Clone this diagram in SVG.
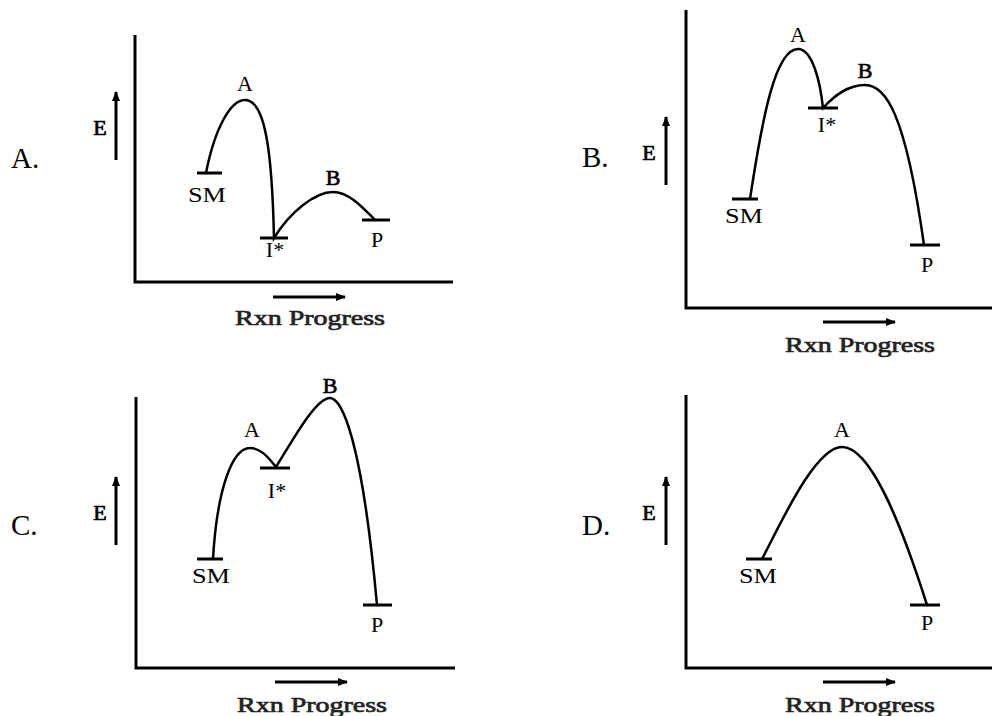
<svg xmlns="http://www.w3.org/2000/svg" width="992" height="716" viewBox="0 0 992 716">
<defs>
<marker id="ah" markerWidth="10" markerHeight="8" refX="9" refY="4" orient="auto" markerUnits="userSpaceOnUse">
<path d="M0,0 L10,4 L0,8 Z" fill="#000"/>
</marker>
<style>
.ax{fill:none;stroke:#000;stroke-width:3}
.lv{fill:none;stroke:#000;stroke-width:3}
.cv{fill:none;stroke:#000;stroke-width:2.5;stroke-linecap:round}
.ar{fill:none;stroke:#000;stroke-width:3;marker-end:url(#ah)}
.lb{font-family:"Liberation Serif","Times New Roman",serif;font-size:22px;fill:#000;text-anchor:middle}
.bd{stroke:#000;stroke-width:0.7}
.pn{font-family:"Liberation Serif","Times New Roman",serif;font-size:29px;fill:#000}
.rx{font-family:"Liberation Serif","Times New Roman",serif;font-size:22px;fill:#222;stroke:#222;stroke-width:0.7}
</style>
</defs>
<rect width="992" height="716" fill="#fff"/>

<g id="panelA">
<text class="pn" x="11" y="168">A.</text>
<path class="ax" d="M135,35 V282 H453"/>
<path class="ar" d="M116,160 V92"/>
<text class="lb bd" x="100" y="135">E</text>
<path class="ar" d="M273,297 H345"/>
<text class="rx" x="235" y="325" textLength="150" lengthAdjust="spacingAndGlyphs">Rxn Progress</text>
<path class="lv" d="M197,173 H222 M260,238 H288 M362,220 H390"/>
<path class="cv" d="M206,173 C215,127 231,100 245,100 C265,100 272,150 274,238 C290,212 315,192 333,192 C350,192 365,210 375,220"/>
<text class="lb" x="245" y="91">A</text>
<text class="lb bd" x="333" y="185">B</text>
<text class="lb" x="207" y="202" textLength="38" lengthAdjust="spacingAndGlyphs">SM</text>
<text class="lb" x="275" y="257">I*</text>
<text class="lb" x="377" y="247">P</text>
</g>

<g id="panelB">
<text class="pn" x="582" y="167">B.</text>
<path class="ax" d="M686,10 V308 H992"/>
<path class="ar" d="M666,185 V117"/>
<text class="lb bd" x="649" y="160">E</text>
<path class="ar" d="M823,322 H895"/>
<text class="rx" x="785" y="352" textLength="150" lengthAdjust="spacingAndGlyphs">Rxn Progress</text>
<path class="lv" d="M732,199 H758 M808,108 H838 M910,245 H940"/>
<path class="cv" d="M750,199 C762,120 775,49 798,49 C812,49 820,80 823,108 C835,95 848,85 865,85 C885,85 905,110 924,245"/>
<text class="lb" x="798" y="42">A</text>
<text class="lb bd" x="865" y="78">B</text>
<text class="lb" x="744" y="223" textLength="38" lengthAdjust="spacingAndGlyphs">SM</text>
<text class="lb" x="827" y="132">I*</text>
<text class="lb" x="927" y="272">P</text>
</g>

<g id="panelC">
<text class="pn" x="11" y="535">C.</text>
<path class="ax" d="M136,397 V668 H455"/>
<path class="ar" d="M116,545 V477"/>
<text class="lb bd" x="100" y="520">E</text>
<path class="ar" d="M275,682 H347"/>
<text class="rx" x="237" y="712" textLength="150" lengthAdjust="spacingAndGlyphs">Rxn Progress</text>
<path class="lv" d="M197,559 H223 M260,468 H290 M363,605 H392"/>
<path class="cv" d="M213,559 C217,490 232,448 250,448 C262,448 270,460 276,467 C290,445 315,398 330,398 C342,398 362,440 377,605"/>
<text class="lb" x="252" y="437">A</text>
<text class="lb bd" x="330" y="393">B</text>
<text class="lb" x="211" y="583" textLength="38" lengthAdjust="spacingAndGlyphs">SM</text>
<text class="lb" x="277" y="498">I*</text>
<text class="lb" x="377" y="632">P</text>
</g>

<g id="panelD">
<text class="pn" x="582" y="535">D.</text>
<path class="ax" d="M686,395 V668 H992"/>
<path class="ar" d="M666,545 V477"/>
<text class="lb bd" x="649" y="520">E</text>
<path class="ar" d="M823,682 H895"/>
<text class="rx" x="785" y="712" textLength="150" lengthAdjust="spacingAndGlyphs">Rxn Progress</text>
<path class="lv" d="M746,559 H772 M910,605 H940"/>
<path class="cv" d="M762,559 C780,525 815,447 842,447 C870,447 900,520 927,605"/>
<text class="lb" x="842" y="437">A</text>
<text class="lb" x="758" y="583" textLength="38" lengthAdjust="spacingAndGlyphs">SM</text>
<text class="lb" x="927" y="630">P</text>
</g>
</svg>
